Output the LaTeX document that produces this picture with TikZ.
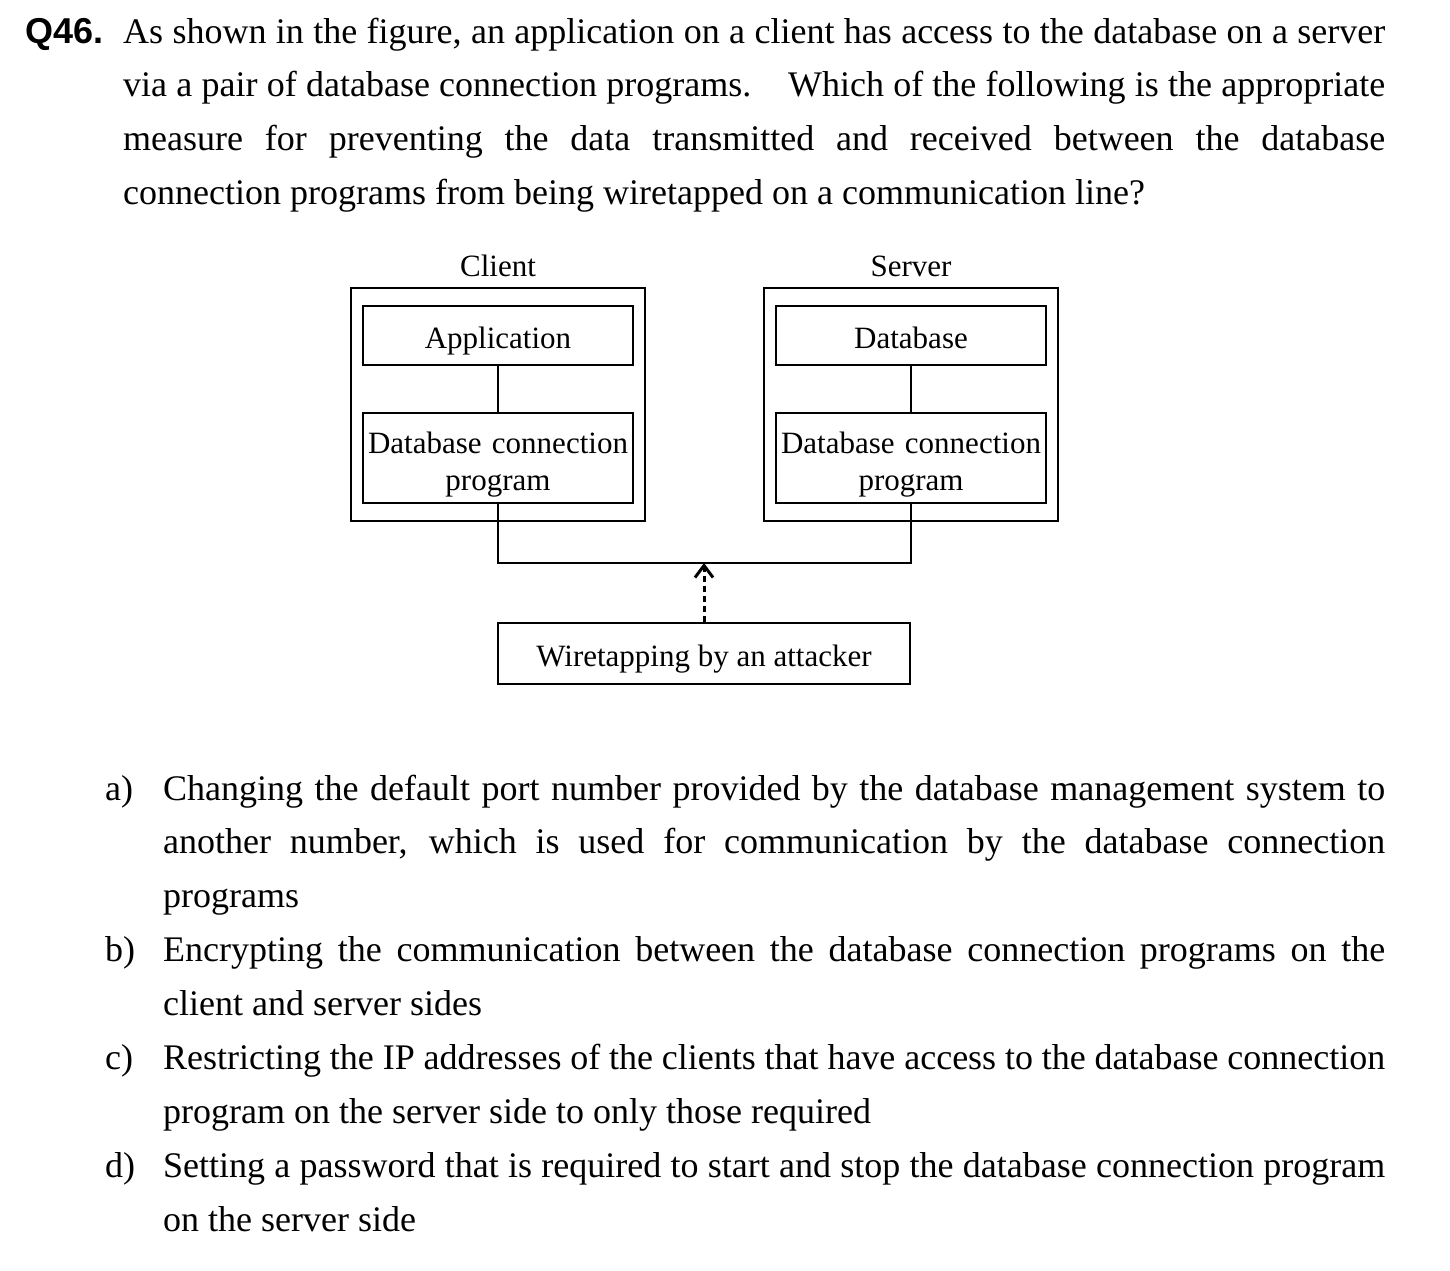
\documentclass[tikz,border=0pt]{standalone}
\usepackage{fontspec}
\setmainfont{Liberation Serif}
\setsansfont{Liberation Sans}
\usetikzlibrary{arrows.meta}
\newcommand\figstrut{\rule[-7pt]{0pt}{39pt}}
\newcommand\topstrut{\rule{0pt}{34pt}}
\newcommand\botstrut{\rule[-7pt]{0pt}{7pt}}
\tikzset{
  bodytext/.style={font=\fontsize{36}{53.9}\selectfont, inner sep=0pt},
  para/.style={bodytext, anchor=base west, align=justify},
  figtext/.style={font=\fontsize{31}{37}\selectfont},
  outerbox/.style={draw, line width=2pt, minimum width=294pt, minimum height=233pt, inner sep=0pt},
  innerbox/.style={draw, line width=2pt, minimum width=270pt, inner sep=0pt, figtext, align=center},
  wire/.style={line width=2pt},
  tapline/.style={line width=3pt, dash pattern=on 6pt off 4pt, -{Straight Barb[length=12pt,width=18pt,line width=3pt]}}
}
\begin{document}
\begin{tikzpicture}[x=1pt,y=-1pt]
\useasboundingbox (0,0) rectangle (1450,1270);
% question
\node[bodytext, anchor=base west, font=\fontsize{36}{53.9}\selectfont\sffamily\bfseries] (qnum) at (25,43) {Q46.};
\node[para, text width=1262pt] (qtext) at (123,43) {As shown in the figure, an application on a client has access to the database on a server\linebreak
via a pair of database connection programs.\hspace{24pt} Which of the following is the appropriate\linebreak
measure for preventing the data transmitted and received between the database\linebreak
connection programs from being wiretapped on a communication line?};
% diagram
\node[figtext, anchor=base] (clientlbl) at (498,276) {Client};
\node[figtext, anchor=base] (serverlbl) at (911,276) {Server};
\node[outerbox] (client) at (498,404.5) {};
\node[outerbox] (server) at (911,404.5) {};
\node[innerbox, minimum height=59pt] (app) at (498,335.5) {\figstrut Application};
\node[innerbox, minimum height=90pt, text width=270pt] (cdbc) at (498,458) {\topstrut Database connection\\program\botstrut};
\node[innerbox, minimum height=59pt] (db) at (911,335.5) {\figstrut Database};
\node[innerbox, minimum height=90pt, text width=270pt] (sdbc) at (911,458) {\topstrut Database connection\\program\botstrut};
\node[draw, line width=2pt, minimum width=412pt, minimum height=61pt, inner sep=0pt, figtext] (tap) at (704,653.5) {\figstrut Wiretapping by an attacker};
\draw[wire] (app.south) -- (cdbc.north);
\draw[wire] (db.south) -- (sdbc.north);
\coordinate (jl) at (498,563);
\coordinate (jr) at (911,563);
\coordinate (jm) at (704,563);
\draw[wire] (cdbc.south) -- (jl) -- (jr) -- (sdbc.south);
\draw[tapline] (tap.north) -- (jm);
% options
\node[bodytext, anchor=base west] (la) at (105,800) {a)};
\node[para, text width=1222pt] (oa) at (163,800) {Changing the default port number provided by the database management system to\linebreak
another number, which is used for communication by the database connection\linebreak
programs};
\node[bodytext, anchor=base west] (lb) at (105,961.7) {b)};
\node[para, text width=1222pt] (ob) at (163,961.7) {Encrypting the communication between the database connection programs on the\linebreak
client and server sides};
\node[bodytext, anchor=base west] (lc) at (105,1069.5) {c)};
\node[para, text width=1222pt] (oc) at (163,1069.5) {Restricting the IP addresses of the clients that have access to the database connection\linebreak
program on the server side to only those required};
\node[bodytext, anchor=base west] (ld) at (105,1177.3) {d)};
\node[para, text width=1222pt] (od) at (163,1177.3) {Setting a password that is required to start and stop the database connection program\linebreak
on the server side};
\end{tikzpicture}
\end{document}
